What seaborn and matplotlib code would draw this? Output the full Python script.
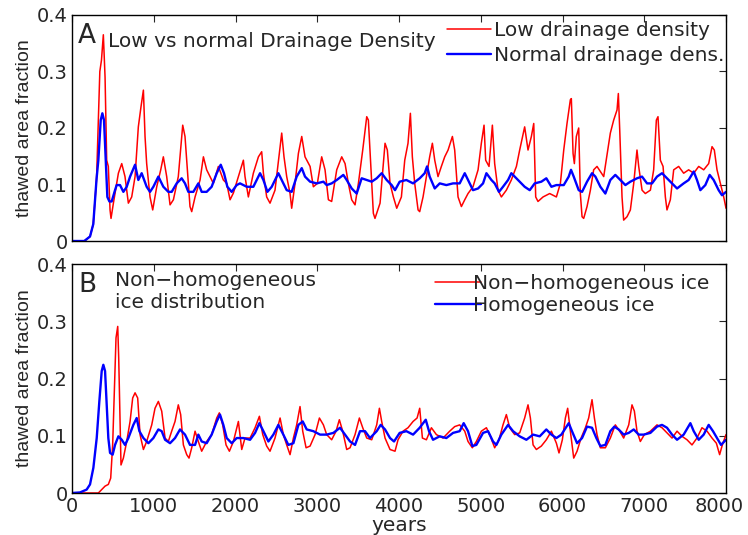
import matplotlib
matplotlib.use("Agg")
import matplotlib.pyplot as plt
import matplotlib.transforms as mtransforms
import seaborn as sns

# panel A: low vs normal drainage density
years_low = [0, 150, 220, 260, 300, 340, 360, 383, 404, 424, 444, 465, 477, 506, 567, 608, 648, 689, 730, 771,
             811, 844, 873, 893, 913, 954, 987, 1036, 1085, 1117, 1158, 1199, 1240, 1300, 1354, 1382, 1411, 1443,
             1464, 1505, 1566, 1607, 1647, 1688, 1729, 1790, 1851, 1892, 1933, 1974, 2035, 2096, 2116, 2157, 2218,
             2280, 2320, 2341, 2381, 2422, 2483, 2536, 2565, 2593, 2626, 2667, 2687, 2728, 2769, 2810, 2850, 2912,
             2952, 3001, 3054, 3095, 3136, 3176, 3238, 3299, 3340, 3380, 3421, 3462, 3503, 3556, 3605, 3625, 3645,
             3666, 3686, 3706, 3768, 3829, 3857, 3890, 3931, 3972, 4029, 4070, 4110, 4139, 4163, 4192, 4233, 4253,
             4294, 4335, 4375, 4408, 4437, 4477, 4518, 4559, 4600, 4653, 4681, 4722, 4763, 4804, 4844, 4905, 4967,
             5007, 5040, 5060, 5101, 5142, 5170, 5211, 5252, 5313, 5374, 5436, 5476, 5537, 5578, 5619, 5648, 5672,
             5700, 5762, 5843, 5925, 5974, 6015, 6055, 6096, 6108, 6129, 6145, 6169, 6198, 6218, 6239, 6259, 6300,
             6341, 6381, 6422, 6504, 6553, 6585, 6626, 6667, 6683, 6700, 6728, 6748, 6789, 6830, 6871, 6911, 6932,
             6973, 7013, 7075, 7115, 7148, 7168, 7197, 7230, 7258, 7278, 7319, 7360, 7421, 7482, 7543, 7605, 7666,
             7727, 7788, 7829, 7857, 7890, 7931, 7972, 8000]
frac_low = [0, 0, 0.008, 0.03, 0.11, 0.30, 0.32, 0.365, 0.29, 0.143, 0.132, 0.055, 0.04, 0.067, 0.12, 0.137, 0.114,
            0.067, 0.078, 0.114, 0.202, 0.238, 0.267, 0.185, 0.137, 0.078, 0.055, 0.096, 0.126, 0.149, 0.114, 0.064,
            0.073, 0.114, 0.205, 0.185, 0.126, 0.061, 0.052, 0.078, 0.108, 0.149, 0.126, 0.114, 0.102, 0.132, 0.108,
            0.102, 0.073, 0.085, 0.114, 0.143, 0.114, 0.078, 0.12, 0.149, 0.158, 0.12, 0.078, 0.067, 0.09, 0.155,
            0.191, 0.149, 0.114, 0.084, 0.058, 0.102, 0.155, 0.185, 0.149, 0.132, 0.096, 0.102, 0.149, 0.126, 0.073,
            0.07, 0.126, 0.149, 0.137, 0.102, 0.073, 0.064, 0.102, 0.161, 0.22, 0.214, 0.161, 0.102, 0.049, 0.04,
            0.067, 0.173, 0.161, 0.102, 0.078, 0.058, 0.078, 0.143, 0.173, 0.226, 0.149, 0.102, 0.055, 0.052, 0.078,
            0.114, 0.149, 0.173, 0.143, 0.114, 0.132, 0.149, 0.161, 0.185, 0.161, 0.078, 0.061, 0.073, 0.084, 0.096,
            0.126, 0.173, 0.205, 0.143, 0.132, 0.205, 0.137, 0.09, 0.078, 0.09, 0.108, 0.132, 0.161, 0.202, 0.161,
            0.185, 0.208, 0.078, 0.07, 0.078, 0.084, 0.078, 0.102, 0.161, 0.208, 0.25, 0.252, 0.155, 0.137, 0.185,
            0.2, 0.084, 0.043, 0.04, 0.061, 0.09, 0.126, 0.132, 0.114, 0.161, 0.191, 0.214, 0.232, 0.261, 0.196,
            0.078, 0.037, 0.043, 0.055, 0.102, 0.161, 0.132, 0.09, 0.084, 0.09, 0.126, 0.214, 0.22, 0.143, 0.132,
            0.078, 0.055, 0.073, 0.126, 0.132, 0.12, 0.126, 0.12, 0.132, 0.126, 0.137, 0.167, 0.161, 0.126, 0.102,
            0.078, 0.058]

years_normal = [0, 150, 220, 260, 300, 322, 351, 371, 391, 412, 432, 457, 485, 526, 546, 587, 628, 669, 710, 771,
                811, 852, 913, 954, 995, 1056, 1117, 1178, 1219, 1280, 1341, 1382, 1423, 1484, 1545, 1586, 1647,
                1708, 1770, 1819, 1859, 1900, 1953, 2014, 2055, 2137, 2218, 2300, 2341, 2390, 2443, 2524, 2565,
                2626, 2687, 2748, 2810, 2850, 2912, 2993, 3075, 3115, 3176, 3238, 3319, 3360, 3421, 3482, 3543,
                3605, 3666, 3727, 3788, 3849, 3910, 3951, 4008, 4090, 4172, 4253, 4314, 4343, 4375, 4437, 4498,
                4579, 4661, 4742, 4804, 4844, 4905, 4967, 5028, 5069, 5130, 5170, 5223, 5272, 5334, 5374, 5415,
                5476, 5537, 5599, 5660, 5741, 5802, 5864, 5925, 6015, 6076, 6104, 6137, 6198, 6239, 6300, 6361,
                6402, 6463, 6524, 6585, 6646, 6708, 6769, 6830, 6911, 6973, 7034, 7095, 7156, 7217, 7278, 7340,
                7401, 7482, 7543, 7605, 7645, 7686, 7747, 7800, 7849, 7910, 7951, 8000]
frac_normal = [0, 0, 0.008, 0.03, 0.11, 0.143, 0.214, 0.226, 0.214, 0.143, 0.078, 0.07, 0.07, 0.09, 0.099, 0.099,
               0.087, 0.096, 0.114, 0.135, 0.108, 0.12, 0.096, 0.087, 0.096, 0.114, 0.096, 0.087, 0.087, 0.102,
               0.111, 0.102, 0.087, 0.087, 0.102, 0.087, 0.087, 0.096, 0.12, 0.135, 0.12, 0.096, 0.087, 0.099,
               0.102, 0.096, 0.096, 0.12, 0.108, 0.087, 0.096, 0.12, 0.108, 0.09, 0.087, 0.114, 0.129, 0.114, 0.105,
               0.102, 0.105, 0.099, 0.102, 0.108, 0.117, 0.108, 0.093, 0.084, 0.111, 0.108, 0.105, 0.111, 0.12,
               0.108, 0.099, 0.09, 0.105, 0.108, 0.102, 0.111, 0.12, 0.132, 0.114, 0.093, 0.102, 0.099, 0.102,
               0.102, 0.12, 0.108, 0.09, 0.093, 0.102, 0.12, 0.108, 0.102, 0.087, 0.096, 0.108, 0.12, 0.114, 0.105,
               0.096, 0.09, 0.102, 0.105, 0.111, 0.096, 0.099, 0.099, 0.114, 0.126, 0.114, 0.09, 0.087, 0.105,
               0.12, 0.114, 0.096, 0.084, 0.108, 0.117, 0.108, 0.099, 0.105, 0.111, 0.114, 0.102, 0.102, 0.114,
               0.12, 0.111, 0.102, 0.093, 0.102, 0.108, 0.123, 0.108, 0.09, 0.099, 0.117, 0.108, 0.09, 0.081, 0.087]

# panel B: non-homogeneous vs homogeneous ice
years_nonhom = [0, 322, 363, 404, 444, 473, 497, 518, 538, 559, 571, 587, 599, 628, 669, 710, 742, 771, 803, 832,
                873, 913, 975, 1015, 1056, 1097, 1138, 1178, 1219, 1260, 1300, 1329, 1362, 1403, 1431, 1464, 1505,
                1545, 1586, 1647, 1708, 1770, 1802, 1843, 1884, 1925, 1974, 2035, 2076, 2116, 2178, 2239, 2292,
                2333, 2381, 2422, 2483, 2545, 2585, 2626, 2667, 2708, 2748, 2789, 2822, 2863, 2912, 2973, 3026,
                3075, 3115, 3176, 3230, 3270, 3311, 3360, 3401, 3462, 3515, 3556, 3605, 3666, 3727, 3760, 3788,
                3829, 3890, 3951, 3988, 4049, 4110, 4172, 4221, 4253, 4286, 4335, 4396, 4457, 4539, 4620, 4681,
                4742, 4804, 4844, 4897, 4946, 5007, 5069, 5118, 5170, 5223, 5272, 5313, 5354, 5415, 5476, 5537,
                5578, 5607, 5640, 5680, 5741, 5802, 5864, 5925, 5957, 5998, 6035, 6063, 6096, 6137, 6178, 6227,
                6280, 6320, 6361, 6390, 6422, 6463, 6524, 6585, 6646, 6700, 6748, 6810, 6850, 6879, 6911, 6952,
                7001, 7075, 7156, 7217, 7278, 7340, 7401, 7462, 7523, 7584, 7645, 7706, 7768, 7829, 7882, 7922,
                7955, 8000]
frac_nonhom = [0, 0, 0.006, 0.012, 0.015, 0.026, 0.084, 0.178, 0.271, 0.291, 0.236, 0.131, 0.049, 0.061, 0.09,
               0.125, 0.166, 0.175, 0.166, 0.102, 0.076, 0.09, 0.119, 0.148, 0.16, 0.143, 0.096, 0.09, 0.108, 0.125,
               0.154, 0.137, 0.084, 0.067, 0.061, 0.079, 0.108, 0.09, 0.073, 0.09, 0.102, 0.131, 0.14, 0.119,
               0.084, 0.073, 0.09, 0.125, 0.076, 0.096, 0.096, 0.114, 0.134, 0.102, 0.082, 0.073, 0.096, 0.131,
               0.102, 0.084, 0.067, 0.096, 0.119, 0.151, 0.108, 0.079, 0.082, 0.102, 0.131, 0.119, 0.102, 0.093,
               0.108, 0.128, 0.108, 0.076, 0.079, 0.102, 0.131, 0.114, 0.096, 0.093, 0.119, 0.148, 0.125, 0.096,
               0.076, 0.073, 0.093, 0.108, 0.114, 0.125, 0.131, 0.148, 0.096, 0.093, 0.114, 0.102, 0.096, 0.108,
               0.116, 0.119, 0.108, 0.09, 0.079, 0.09, 0.108, 0.114, 0.099, 0.079, 0.093, 0.119, 0.137, 0.114,
               0.102, 0.105, 0.131, 0.154, 0.131, 0.084, 0.076, 0.082, 0.093, 0.108, 0.087, 0.07, 0.093, 0.131,
               0.148, 0.108, 0.061, 0.073, 0.096, 0.114, 0.131, 0.163, 0.131, 0.102, 0.079, 0.079, 0.096, 0.119,
               0.108, 0.096, 0.119, 0.154, 0.143, 0.108, 0.09, 0.102, 0.108, 0.119, 0.114, 0.105, 0.096, 0.108,
               0.099, 0.093, 0.084, 0.096, 0.114, 0.108, 0.096, 0.087, 0.067, 0.084, 0.102]

years_hom = [0, 98, 179, 220, 261, 302, 334, 363, 383, 404, 424, 444, 465, 497, 526, 567, 608, 648, 689, 750, 791,
             824, 873, 934, 995, 1056, 1097, 1138, 1199, 1260, 1321, 1382, 1443, 1505, 1545, 1586, 1647, 1708,
             1770, 1810, 1851, 1892, 1953, 2014, 2096, 2178, 2239, 2292, 2341, 2402, 2463, 2524, 2585, 2646, 2708,
             2769, 2822, 2871, 2952, 3034, 3115, 3197, 3278, 3340, 3401, 3462, 3523, 3584, 3645, 3727, 3776, 3829,
             3890, 3939, 4008, 4090, 4172, 4253, 4327, 4367, 4416, 4498, 4579, 4661, 4742, 4791, 4844, 4897, 4946,
             5028, 5089, 5150, 5191, 5252, 5334, 5395, 5476, 5558, 5640, 5721, 5802, 5864, 5925, 5986, 6076, 6116,
             6178, 6239, 6300, 6361, 6414, 6463, 6524, 6585, 6634, 6687, 6748, 6810, 6871, 6932, 6993, 7075, 7156,
             7217, 7278, 7340, 7401, 7482, 7564, 7605, 7666, 7727, 7788, 7841, 7890, 7939, 8000]
frac_hom = [0, 0.001, 0.006, 0.015, 0.044, 0.096, 0.16, 0.213, 0.224, 0.213, 0.154, 0.096, 0.07, 0.067, 0.084,
            0.099, 0.093, 0.084, 0.096, 0.119, 0.131, 0.108, 0.096, 0.087, 0.096, 0.111, 0.108, 0.093, 0.087, 0.096,
            0.111, 0.102, 0.084, 0.084, 0.102, 0.09, 0.087, 0.102, 0.125, 0.137, 0.119, 0.096, 0.087, 0.096, 0.096,
            0.093, 0.105, 0.122, 0.108, 0.09, 0.102, 0.119, 0.102, 0.084, 0.087, 0.119, 0.125, 0.111, 0.108, 0.102,
            0.102, 0.105, 0.114, 0.102, 0.09, 0.084, 0.108, 0.108, 0.096, 0.108, 0.119, 0.111, 0.096, 0.09, 0.105,
            0.108, 0.102, 0.114, 0.128, 0.108, 0.093, 0.099, 0.096, 0.105, 0.108, 0.122, 0.108, 0.082, 0.084, 0.105,
            0.108, 0.09, 0.084, 0.102, 0.119, 0.108, 0.099, 0.093, 0.102, 0.099, 0.111, 0.102, 0.096, 0.102, 0.122,
            0.108, 0.087, 0.096, 0.116, 0.114, 0.096, 0.082, 0.084, 0.108, 0.116, 0.111, 0.102, 0.105, 0.111, 0.102,
            0.102, 0.105, 0.116, 0.119, 0.114, 0.102, 0.093, 0.102, 0.122, 0.108, 0.093, 0.102, 0.119, 0.108, 0.096,
            0.084, 0.093]

yticks = [0, 0.1, 0.2, 0.3, 0.4]
yticklabels = ["0", "0.1", "0.2", "0.3", "0.4"]
xticks = [0, 1000, 2000, 3000, 4000, 5000, 6000, 7000, 8000]

sns.set_style("white")
# 横向文字用较宽的 DejaVu Sans，纵轴标题用 Liberation Sans
plt.rcParams['font.family'] = ['DejaVu Sans']
fs = 14.5

fig = plt.figure(figsize=(7.48, 5.35), dpi=100)
ax_a = fig.add_axes([0.0963, 0.5495, 0.8743, 0.4225])
ax_b = fig.add_axes([0.0963, 0.0785, 0.8743, 0.428])

# 上图
sns.lineplot(x=years_low, y=frac_low, ax=ax_a, color='#ff0000', lw=1.1, sort=False,
             estimator=None, label='Low drainage density')
sns.lineplot(x=years_normal, y=frac_normal, ax=ax_a, color='#0000ff', lw=1.7, sort=False,
             estimator=None, label='Normal drainage dens.')
ax_a.text(0.009, 0.965, 'A', transform=ax_a.transAxes, fontsize=19, va='top', ha='left')
ax_a.text(0.055, 0.925, 'Low vs normal Drainage Density', transform=ax_a.transAxes,
          fontsize=fs, va='top', ha='left')
ax_a.legend(loc='upper right', bbox_to_anchor=(0.997, 0.972), frameon=False, fontsize=fs,
            handlelength=2.15, handletextpad=0.15, labelspacing=0.3, borderaxespad=0.0, borderpad=0.0)

# 下图
sns.lineplot(x=years_nonhom, y=frac_nonhom, ax=ax_b, color='#ff0000', lw=1.1, sort=False,
             estimator=None, label='Non\u2212homogeneous ice')
sns.lineplot(x=years_hom, y=frac_hom, ax=ax_b, color='#0000ff', lw=1.7, sort=False,
             estimator=None, label='Homogeneous ice')
ax_b.text(0.009, 0.965, 'B', transform=ax_b.transAxes, fontsize=19, va='top', ha='left')
ax_b.text(0.066, 0.968, 'Non\u2212homogeneous\nice distribution', transform=ax_b.transAxes,
          fontsize=fs, va='top', ha='left', linespacing=1.15)
ax_b.legend(loc='upper right', bbox_to_anchor=(0.975, 0.958), frameon=False, fontsize=fs,
            handlelength=2.3, handletextpad=-0.4, labelspacing=0.15, borderaxespad=0.0, borderpad=0.0)

for ax in (ax_a, ax_b):
    ax.set_xlim(0, 8000)
    ax.set_ylim(0, 0.4)
    ax.set_yticks(yticks)
    ax.set_yticklabels(yticklabels)
    ax.set_xticks(xticks)
    ax.tick_params(direction='in', top=True, right=True, length=5, width=0.8, labelsize=14, pad=3)
    ax.set_ylabel('thawed area fraction', fontsize=14, family=['Liberation Sans', 'DejaVu Sans'],
                  labelpad=3)
    for s in ax.spines.values():
        s.set_color('black')
        s.set_linewidth(1.0)

ax_a.set_xticklabels([])
ax_b.set_xticklabels([str(t) for t in xticks])
ax_b.set_xlabel('years', fontsize=fs, labelpad=0)

# 最右边的 8000 稍微左移，避免被裁掉
last = ax_b.get_xticklabels()[-1]
last.set_transform(last.get_transform() + mtransforms.ScaledTranslation(-5 / 72, 0, fig.dpi_scale_trans))

fig.savefig('out.png', dpi=100)
